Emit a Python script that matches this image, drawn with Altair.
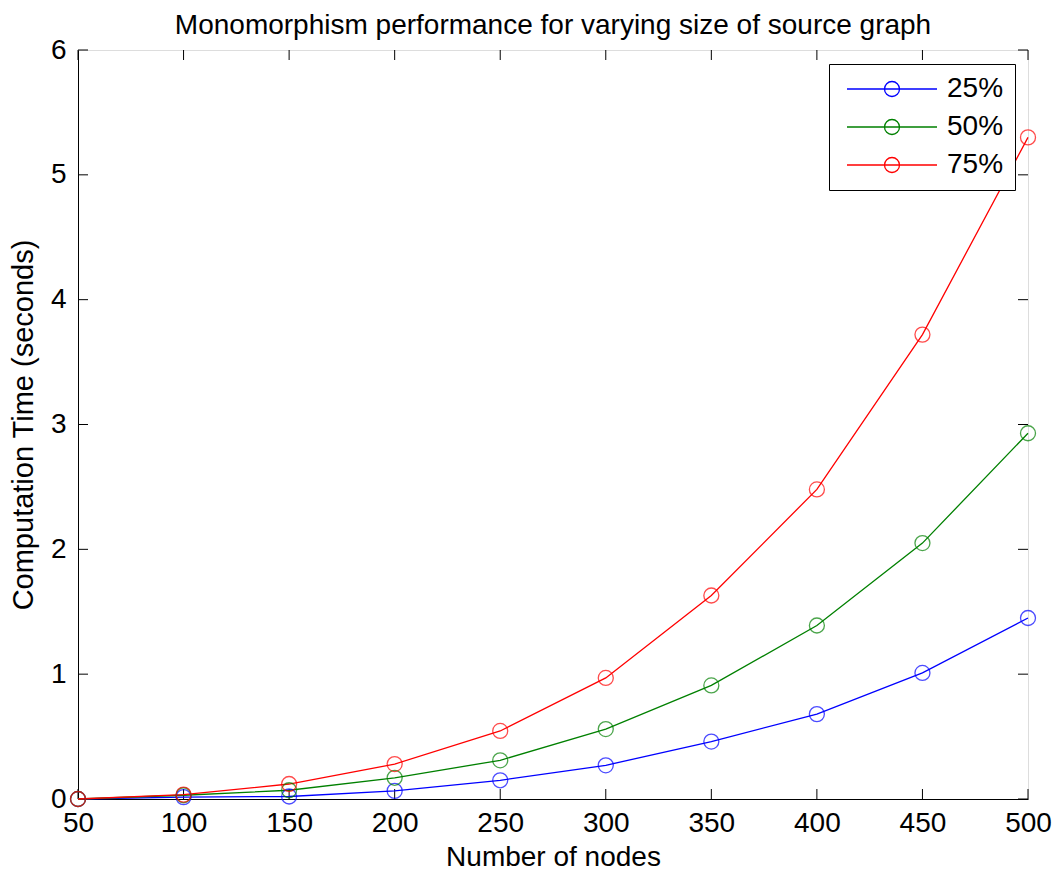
import altair as alt
import pandas as pd

nodes = [50, 100, 150, 200, 250, 300, 350, 400, 450, 500]
s25 = [0.0, 0.015, 0.02, 0.065, 0.15, 0.27, 0.46, 0.68, 1.01, 1.45]
s50 = [0.0, 0.03, 0.07, 0.17, 0.31, 0.56, 0.91, 1.39, 2.05, 2.93]
s75 = [0.0, 0.035, 0.12, 0.28, 0.545, 0.97, 1.63, 2.48, 3.72, 5.30]
series = ["25%", "50%", "75%"]
colors = ["#0000FF", "#008000", "#FF0000"]
x_ticks = [50, 100, 150, 200, 250, 300, 350, 400, 450, 500]
y_ticks = [0, 1, 2, 3, 4, 5, 6]

rows = []
for name, vals in zip(series, [s25, s50, s75]):
    for n, v in zip(nodes, vals):
        rows.append({"nodes": n, "time": v, "series": name})
df = pd.DataFrame(rows)

W, H = 950, 749
FONT = "Liberation Sans"

xs = alt.Scale(domain=[50, 500], nice=False, zero=False)
ys = alt.Scale(domain=[0, 6], nice=False)

sym_path = ("M-6,0L6,0 M-1,0 A1,1 0 1,1 1,0 A1,1 0 1,1 -1,0")

color = alt.Color(
    "series:N",
    scale=alt.Scale(domain=series, range=colors),
    legend=alt.Legend(
        title=None,
        orient="none",
        legendX=751,
        legendY=14,
        symbolType=sym_path,
        symbolSize=225,
        symbolStrokeWidth=1.3,
        symbolFillColor="transparent",
        symbolOffset=38,
        labelOffset=41,
        labelFont=FONT,
        labelFontSize=28,
        labelColor="#000000",
        strokeColor="#000000",
        fillColor="#FFFFFF",
        padding=11,
        rowPadding=10,
    ),
)

axis_common = dict(grid=False, tickSize=0, labelFontSize=28,
                   labelFont=FONT, titleFont=FONT, titleFontWeight="normal",
                   labelColor="#000", titleColor="#000", domainColor="#000",
                   labelFlush=False, format="d")

base = alt.Chart(df)
lines = base.mark_line(strokeWidth=1.3).encode(
    x=alt.X("nodes:Q", scale=xs,
            axis=alt.Axis(values=x_ticks, title="Number of nodes", titleFontSize=28,
                          labelPadding=10, titlePadding=6, **axis_common)),
    y=alt.Y("time:Q", scale=ys,
            axis=alt.Axis(values=y_ticks, title="Computation Time (seconds)",
                          titleFontSize=29, labelPadding=12, titlePadding=12,
                          **axis_common)),
    color=color,
)
points = base.mark_point(shape="circle", filled=False, size=225, strokeWidth=1.3).encode(
    x=alt.X("nodes:Q", scale=xs),
    y=alt.Y("time:Q", scale=ys),
    color=alt.Color("series:N", scale=alt.Scale(domain=series, range=colors), legend=None),
)

xt = pd.DataFrame({"v": x_ticks})
yt = pd.DataFrame({"v": y_ticks})
tick_len = 10
bt = alt.Chart(xt).mark_rule(color="#000", strokeWidth=1).encode(
    x=alt.X("v:Q", scale=xs), y=alt.value(H), y2=alt.value(H - tick_len))
tt = alt.Chart(xt).mark_rule(color="#000", strokeWidth=1).encode(
    x=alt.X("v:Q", scale=xs), y=alt.value(0), y2=alt.value(tick_len))
lt = alt.Chart(yt).mark_rule(color="#000", strokeWidth=1).encode(
    y=alt.Y("v:Q", scale=ys), x=alt.value(0), x2=alt.value(tick_len))
rt = alt.Chart(yt).mark_rule(color="#000", strokeWidth=1).encode(
    y=alt.Y("v:Q", scale=ys), x=alt.value(W), x2=alt.value(W - tick_len))

chart = alt.layer(bt, tt, lt, rt, lines, points).properties(
    width=W, height=H,
    autosize=alt.AutoSizeParams(type="none"),
    padding={"left": 70, "top": 42, "right": 24, "bottom": 74},
    title=alt.Title("Monomorphism performance for varying size of source graph",
                    font=FONT, fontSize=28, fontWeight="normal", color="#000",
                    offset=-4),
).configure_view(stroke="#000", strokeWidth=1).configure(background="#FFFFFF")

chart.save("out.html", embed_options={"renderer": "svg", "actions": False})
